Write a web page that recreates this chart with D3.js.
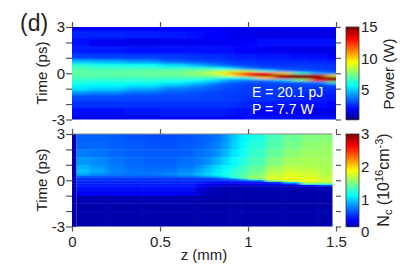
<!DOCTYPE html>
<html>
<head>
<meta charset="utf-8">
<script src="https://cdn.jsdelivr.net/npm/d3@7"></script>
<style>
  html, body { margin: 0; background: #fff; }
  svg { display: block; }
  text { font-family: "Liberation Sans", Arial, sans-serif; fill: #222; }
</style>
</head>
<body>
<div class="canva"></div>
<script>
// time rows, top to bottom (ps)
const powerTimes = [3, 2.5, 2, 1.5, 1, 0.75, 0.5, 0.3, 0.15, 0, -0.15, -0.3, -0.45, -0.6, -0.75, -1, -1.25, -1.5, -2, -2.5, -3];
const powerZ = [0, 0.2, 0.4, 0.6, 0.7, 0.8, 0.85, 0.9, 0.95, 1, 1.1, 1.2, 1.3, 1.4, 1.5];
// one list per z column (W)
const powerValues = [
  [1.7,2.4,2.0,2.3,2.8,4.8,6.3,6.7,6.9,7.0,6.9,6.7,6.4,6.1,5.7,5.3,4.2,3.0,2.6,2.1,1.5],
  [1.7,2.4,1.7,2.2,2.8,4.5,6.0,6.5,6.9,7.0,6.9,6.6,6.3,6.0,5.6,5.0,3.9,3.0,2.6,2.1,1.6],
  [1.8,2.3,1.5,2.1,2.8,4.1,5.8,6.5,7.0,7.1,7.0,6.6,6.3,5.9,5.4,4.5,3.5,2.9,2.6,2.2,1.7],
  [1.9,2.2,1.6,2.1,2.7,3.4,5.2,6.4,7.1,7.3,7.1,6.6,6.1,5.6,4.8,3.8,3.2,2.9,2.6,2.3,1.8],
  [1.9,2.1,1.7,2.1,2.6,3.1,4.6,6.4,7.4,7.7,7.4,6.6,5.9,5.2,4.2,3.5,3.1,2.9,2.6,2.3,1.8],
  [1.8,1.9,1.7,2.1,2.5,2.9,3.9,6.2,7.8,8.4,7.7,6.5,5.4,4.4,3.6,3.2,2.9,2.8,2.6,2.3,1.9],
  [1.7,1.8,1.7,2.1,2.5,2.8,3.5,5.8,8.2,9.3,8.2,6.2,4.8,3.8,3.3,3.0,2.8,2.8,2.6,2.3,1.9],
  [1.7,1.7,1.7,2.0,2.4,2.7,3.2,5.2,8.4,10.5,9.2,5.8,4.2,3.5,3.1,2.9,2.8,2.7,2.6,2.2,1.9],
  [1.6,1.6,1.8,1.9,2.3,2.6,3.0,4.5,8.5,11.5,10.5,6.0,4.0,3.2,2.9,2.8,2.7,2.7,2.5,2.1,1.9],
  [1.6,1.5,1.9,1.8,2.3,2.6,2.9,3.6,8.0,13.0,12.5,6.5,3.8,3.0,2.8,2.7,2.7,2.6,2.4,2.0,2.0],
  [1.6,1.5,2.0,1.7,2.2,2.5,2.7,3.0,6.0,13.0,14.5,10.0,4.0,3.0,2.8,2.7,2.7,2.6,2.3,1.9,2.0],
  [1.6,1.5,2.0,1.6,2.2,2.5,2.6,2.9,3.8,10.0,16.5,14.0,5.0,3.0,2.8,2.7,2.7,2.5,2.2,1.8,2.1],
  [1.6,1.5,2.0,1.5,2.1,2.5,2.7,2.9,3.2,6.5,16.0,17.0,7.5,3.4,2.9,2.7,2.6,2.4,2.1,1.7,2.1],
  [1.6,1.5,2.0,1.5,2.0,2.4,2.7,2.7,3.0,4.2,14.0,18.0,13.0,3.8,2.9,2.6,2.5,2.3,2.0,1.6,2.1],
  [1.6,1.5,2.0,1.5,1.9,2.3,2.6,2.7,2.8,3.2,9.0,17.0,17.0,7.0,3.0,2.6,2.4,2.2,1.9,1.5,2.1]
];

// carrier panel: cell edges, and one list per time row (10^16 cm^-3)
const carrierZEdges = [0, 0.025, 0.1, 0.2, 0.3, 0.4, 0.5, 0.6, 0.7, 0.75, 0.8, 0.85, 0.9, 0.95, 1, 1.1, 1.2, 1.3, 1.4, 1.48];
const carrierTimeEdges = [3, 2.5, 2, 1.5, 1, 0.75, 0.5, 0.3, 0.2, 0.1, 0, -0.1, -0.2, -0.3, -0.4, -0.5, -0.75, -1, -1.5, -2, -2.5, -3];
const carrierValues = [
  [.12,.66,.66,.64,.62,.6,.6,.62,.65,.68,.72,.82,.98,1.1,1.2,1.34,1.44,1.5,1.52],
  [.12,.68,.68,.66,.64,.62,.62,.64,.66,.7,.75,.85,1.0,1.13,1.24,1.37,1.48,1.54,1.56],
  [.12,.74,.72,.68,.66,.64,.64,.66,.7,.74,.8,.92,1.06,1.16,1.28,1.42,1.53,1.58,1.58],
  [.12,.82,.78,.72,.68,.66,.66,.7,.74,.8,.9,1.02,1.12,1.22,1.33,1.5,1.6,1.62,1.6],
  [.12,.9,.82,.74,.7,.68,.68,.72,.8,.9,1.02,1.1,1.2,1.3,1.4,1.58,1.66,1.66,1.62],
  [.12,.94,.86,.76,.72,.7,.72,.78,.86,.96,1.06,1.15,1.25,1.32,1.44,1.64,1.72,1.7,1.64],
  [.12,.88,.8,.74,.72,.72,.76,.82,.92,1.0,1.08,1.18,1.28,1.36,1.5,1.7,1.78,1.74,1.66],
  [.12,.66,.64,.64,.64,.64,.68,.74,.8,.88,.98,1.12,1.28,1.4,1.56,1.74,1.8,1.78,1.68],
  [.12,.56,.56,.56,.56,.56,.56,.58,.6,.64,.7,.88,1.15,1.38,1.58,1.76,1.82,1.8,1.7],
  [.12,.52,.52,.52,.52,.52,.52,.52,.54,.54,.56,.6,.68,.9,1.3,1.76,1.82,1.8,1.72],
  [.12,.5,.5,.5,.5,.5,.5,.5,.5,.5,.5,.52,.54,.58,.66,1.5,1.82,1.8,1.72],
  [.12,.48,.48,.48,.48,.48,.48,.48,.46,.44,.42,.4,.4,.42,.44,.54,1.0,1.7,1.7],
  [.12,.46,.46,.46,.46,.46,.46,.46,.4,.34,.3,.28,.28,.3,.32,.36,.52,1.36,1.3],
  [.12,.44,.44,.44,.44,.44,.44,.44,.35,.28,.24,.22,.21,.21,.22,.24,.26,.38,.55],
  [.12,.42,.42,.42,.42,.42,.42,.42,.32,.24,.2,.18,.17,.17,.17,.17,.18,.19,.2],
  [.12,.4,.4,.4,.4,.4,.4,.4,.29,.22,.18,.16,.16,.16,.16,.16,.16,.16,.17],
  [.12,.36,.36,.36,.36,.36,.36,.35,.26,.19,.16,.15,.15,.15,.15,.15,.15,.15,.15],
  [.12,.16,.16,.16,.16,.16,.16,.15,.14,.14,.14,.14,.14,.14,.14,.14,.14,.14,.14],
  [.12,.14,.14,.14,.14,.14,.14,.14,.14,.14,.14,.14,.14,.14,.14,.14,.14,.14,.14],
  [.12,.15,.15,.15,.15,.15,.15,.14,.15,.15,.15,.15,.15,.15,.15,.15,.15,.15,.15],
  [.12,.14,.14,.14,.14,.14,.14,.14,.14,.15,.15,.15,.15,.15,.15,.15,.15,.15,.15]
];

const zTicks = [0, 0.5, 1, 1.5];
const timeTicks = [3, 2, 1, 0, -1, -2, -3];
const timeLabels = [3, 0, -3];
const powerBarTicks = [15, 10, 5];
const carrierBarTicks = [3, 2, 1, 0];

const jetColors = ["#000080", "#0000ff", "#00ffff", "#ffff00", "#ff0000", "#800000"];
const powerStops = [0, 1.875, 5.625, 9.375, 13.125, 15];
const carrierStops = [0, 0.375, 1.125, 1.875, 2.625, 3];

const margin = {left: 72, right: 73, topA: 27, topB: 134, height: 92.5};
const width = 409, height = 267;
const plotWidth = width - margin.left - margin.right;
const barLeft = 346, barWidth = 13;
const pad = 24; // cells run past the plot edge so the blur doesn't fade there

const svg = d3.select(".canva").append("svg")
  .attr("width", width)
  .attr("height", height);

const x = d3.scaleLinear().domain([0, 1.5]).range([0, plotWidth]);
const y = d3.scaleLinear().domain([3, -3]).range([0, margin.height]);

const powerColor = d3.scaleLinear().domain(powerStops).range(jetColors).clamp(true);
const carrierColor = d3.scaleLinear().domain(carrierStops).range(jetColors).clamp(true);

const defs = svg.append("defs");
function clip(id, x0, x1) {
  defs.append("clipPath").attr("id", id)
    .append("rect").attr("x", x0).attr("width", x1 - x0).attr("height", margin.height);
}
clip("clipA", 0, plotWidth);
clip("clipB", x(0.025), x(1.48));

function blur(id, dev) {
  defs.append("filter").attr("id", id)
    .attr("filterUnits", "userSpaceOnUse")
    .attr("x", -pad).attr("y", -pad)
    .attr("width", plotWidth + 2 * pad).attr("height", margin.height + 2 * pad)
    .append("feGaussianBlur").attr("stdDeviation", dev);
}
blur("blurA", "5 1");
blur("blurB", "2 0.6");

// the little slanted blocks seen in the lower plot
const hatch = defs.append("pattern").attr("id", "hatch")
  .attr("patternUnits", "userSpaceOnUse").attr("width", 4).attr("height", 5);
hatch.append("path").attr("d", "M0.5,4 L2.5,1")
  .attr("stroke", "#000050").attr("stroke-width", 1.2).attr("opacity", 0.25);

// turn centre positions into cell edges
function edgesFrom(centres) {
  const mids = d3.pairs(centres, (a, b) => (a + b) / 2);
  return [centres[0]].concat(mids, [centres[centres.length - 1]]);
}

// pixel edges of a run of cells, with the outer ones pushed out by pad
function pixelEdges(values, scale) {
  const px = values.map(scale);
  px[0] -= pad;
  px[px.length - 1] += pad;
  return px;
}

const panelA = svg.append("g").attr("transform", `translate(${margin.left},${margin.topA})`);
const panelB = svg.append("g").attr("transform", `translate(${margin.left},${margin.topB})`);

const xEdgesA = pixelEdges(edgesFrom(powerZ), x);
const yEdgesA = pixelEdges(edgesFrom(powerTimes), y);

panelA.append("g").attr("clip-path", "url(#clipA)")
  .append("g").attr("filter", "url(#blurA)")
  .selectAll("g").data(powerValues).enter().append("g")
  .each(function(col, i) {
    d3.select(this).selectAll("rect").data(col).enter().append("rect")
      .attr("x", xEdgesA[i])
      .attr("width", xEdgesA[i + 1] - xEdgesA[i] + 0.5)
      .attr("y", (d, j) => yEdgesA[j])
      .attr("height", (d, j) => yEdgesA[j + 1] - yEdgesA[j] + 0.5)
      .attr("fill", d => powerColor(d));
  });

// first column of the carrier map stays a sharp strip, the rest is softened a little
const xEdgesB = pixelEdges(carrierZEdges.slice(1), x);
const yEdgesB = pixelEdges(carrierTimeEdges, y);

panelB.append("g").attr("clip-path", "url(#clipB)")
  .append("g").attr("filter", "url(#blurB)")
  .selectAll("g").data(carrierValues).enter().append("g")
  .each(function(row, j) {
    d3.select(this).selectAll("rect").data(row.slice(1)).enter().append("rect")
      .attr("x", (d, i) => xEdgesB[i])
      .attr("width", (d, i) => xEdgesB[i + 1] - xEdgesB[i] + 0.4)
      .attr("y", yEdgesB[j])
      .attr("height", yEdgesB[j + 1] - yEdgesB[j] + 0.4)
      .attr("fill", d => carrierColor(d));
  });

panelB.append("g").selectAll("rect").data(carrierValues).enter().append("rect")
  .attr("x", x(carrierZEdges[0]))
  .attr("width", x(carrierZEdges[1]) - x(carrierZEdges[0]))
  .attr("y", (d, j) => y(carrierTimeEdges[j]))
  .attr("height", (d, j) => y(carrierTimeEdges[j + 1]) - y(carrierTimeEdges[j]) + 0.4)
  .attr("fill", d => carrierColor(d[0]));

// hatching only where the lower plot is dark
panelB.append("rect")
  .attr("x", x(carrierZEdges[1]))
  .attr("y", y(-0.5))
  .attr("width", x(1.48) - x(carrierZEdges[1]))
  .attr("height", y(-3) - y(-0.5))
  .attr("fill", "url(#hatch)");
panelB.append("line").attr("x2", x(1.48))
  .attr("stroke", "#888").attr("stroke-width", 1);

function styleAxis(g) {
  g.select(".domain").remove();
  g.selectAll(".tick line").attr("stroke", "#555").attr("stroke-width", 1.2);
  g.selectAll(".tick text")
    .attr("fill", "#222")
    .style("font-family", "'Liberation Sans', Arial, sans-serif")
    .style("font-size", "15px");
}

const timeFormat = d => timeLabels.includes(d) ? String(d) : "";

[panelA, panelB].forEach(function(panel) {
  panel.append("g")
    .call(d3.axisLeft(y).tickValues(timeTicks).tickSize(6).tickPadding(1).tickFormat(timeFormat))
    .call(styleAxis);
  panel.append("g")
    .attr("transform", `translate(${plotWidth},0)`)
    .call(d3.axisRight(y).tickValues(timeTicks).tickSize(5).tickFormat(""))
    .call(styleAxis);
  panel.append("g")
    .call(d3.axisTop(x).tickValues(zTicks).tickSize(5).tickFormat(""))
    .call(styleAxis);
});

panelB.append("g")
  .attr("transform", `translate(0,${margin.height})`)
  .call(d3.axisBottom(x).tickValues(zTicks).tickSize(5).tickPadding(5).tickFormat(d => String(d)))
  .call(styleAxis);

// colour bars
function colorBar(top, color, domain, ticks) {
  const barY = d3.scaleLinear().domain(domain).range([margin.height, 0]);
  const g = svg.append("g").attr("transform", `translate(${barLeft},${top})`);
  const steps = d3.range(0, Math.ceil(margin.height));
  g.selectAll("rect").data(steps).enter().append("rect")
    .attr("y", d => d)
    .attr("width", barWidth)
    .attr("height", 1.2)
    .attr("fill", d => color(barY.invert(d + 0.5)));
  g.append("rect").attr("width", barWidth).attr("height", margin.height)
    .attr("fill", "none").attr("stroke", "#333").attr("stroke-width", 0.8);
  g.append("g")
    .attr("transform", `translate(${barWidth},0)`)
    .call(d3.axisRight(barY).tickValues(ticks).tickSize(0).tickPadding(2).tickFormat(d => String(d)))
    .call(styleAxis);
}
colorBar(margin.topA, powerColor, [0.2, 15], powerBarTicks);
colorBar(margin.topB, carrierColor, [0.17, 3], carrierBarTicks);

svg.append("text").attr("x", 20).attr("y", 31).attr("font-size", 23).text("(d)");

function rotatedLabel(cx, cy, size) {
  return svg.append("text")
    .attr("transform", `translate(${cx},${cy}) rotate(-90)`)
    .attr("text-anchor", "middle")
    .attr("font-size", size);
}
rotatedLabel(47, 73, 15).text("Time (ps)");
rotatedLabel(47, 180, 15).text("Time (ps)");
rotatedLabel(394, 74, 15).text("Power (W)");

const nc = rotatedLabel(389, 180, 16);
nc.append("tspan").text("N");
nc.append("tspan").attr("dy", 3).attr("font-size", 11).text("c");
nc.append("tspan").attr("dy", -3).text(" (10");
nc.append("tspan").attr("dy", -6).attr("font-size", 11).text("16");
nc.append("tspan").attr("dy", 6).text("cm");
nc.append("tspan").attr("dy", -6).attr("font-size", 11).text("-3");
nc.append("tspan").attr("dy", 6).text(")");

svg.append("text").attr("x", 204).attr("y", 260)
  .attr("text-anchor", "middle").attr("font-size", 15).text("z (mm)");

svg.append("text").attr("x", 252).attr("y", 97).attr("font-size", 14)
  .style("fill", "#fff").text("E = 20.1 pJ");
svg.append("text").attr("x", 252).attr("y", 114).attr("font-size", 14)
  .style("fill", "#fff").text("P = 7.7 W");
</script>
</body>
</html>
